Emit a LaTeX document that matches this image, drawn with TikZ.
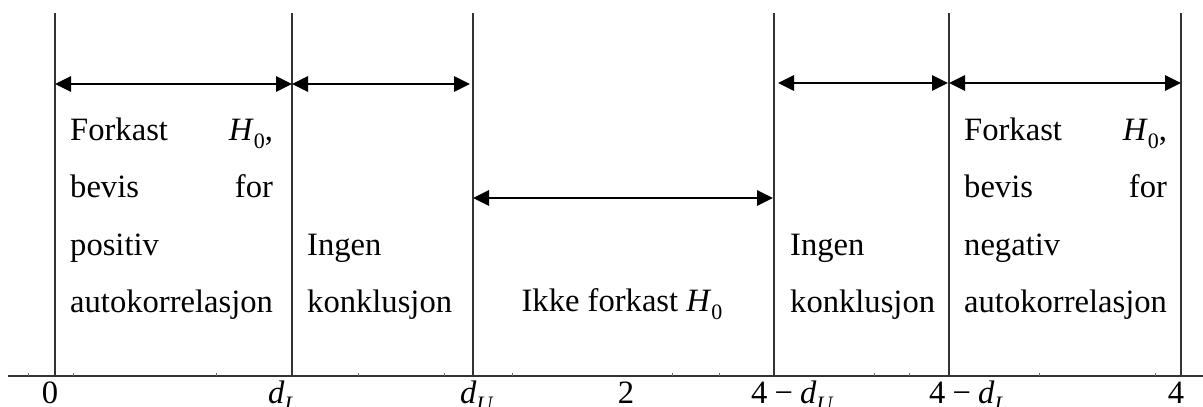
\documentclass[tikz,border=0pt]{standalone}
\usepackage{fontspec}
\setmainfont{Liberation Serif}
\usetikzlibrary{arrows.meta}
\newlength\colw
\newcommand{\ivar}[2]{\textit{#1}\raisebox{-0.25em}{\fontsize{22}{22}\selectfont #2}}
\newcommand{\jline}[2]{\settowidth{\colw}{autokorrelasjon}\makebox[\colw]{#1\hfill#2}}
\begin{document}
\begin{tikzpicture}[x=1pt,y=-1pt,
  vline/.style={line width=1.3pt, draw=black!80},
  axisline/.style={line width=1.4pt, draw=black!80},
  tickmark/.style={line width=0.8pt, draw=black!60},
  dimarrow/.style={line width=2.8pt, {Triangle[length=16pt,width=15pt]}-{Triangle[length=16pt,width=15pt]}},
  txt/.style={font=\fontsize{32.6}{40}\selectfont, inner sep=0pt, anchor=base west},
  lab/.style={font=\fontsize{32.6}{40}\selectfont, inner sep=0pt}]
\useasboundingbox (0,0) rectangle (1203,407);
\clip (0,0) rectangle (1203,407);
% axis
\coordinate (axL) at (8,376);
\coordinate (axR) at (1203,376);
\draw[axisline] (axL) -- (axR);
\foreach \x in {28.7,73.6,216.5,358,444,512,672,719.5,874,909,1039,1155.6}
  \draw[tickmark] (\x,376) -- ++(0,-3);
% vertical lines
\foreach \n/\x in {v0/55,v1/292,v2/473,v3/774,v4/949,v5/1181}{
  \coordinate (\n t) at (\x,13);
  \coordinate (\n b) at (\x,376);
  \draw[vline] (\n t) -- (\n b);
}
% arrows
\coordinate (a1l) at (55,84);  \coordinate (a1r) at (292,84);
\coordinate (a2l) at (292,84); \coordinate (a2r) at (470,84);
\coordinate (a3l) at (473,198);\coordinate (a3r) at (773,198);
\coordinate (a4l) at (778,83); \coordinate (a4r) at (948,83);
\coordinate (a5l) at (949,83); \coordinate (a5r) at (1181,83);
\draw[dimarrow] (a1l) -- (a1r);
\draw[dimarrow] (a2l) -- (a2r);
\draw[dimarrow] (a3l) -- (a3r);
\draw[dimarrow] (a4l) -- (a4r);
\draw[dimarrow] (a5l) -- (a5r);
% column 1
\node[txt] (c1a) at (70,140) {\jline{Forkast}{\ivar{H}{0},}};
\node[txt] (c1b) at (70,197) {\jline{bevis}{for}};
\node[txt] (c1c) at (70,255) {positiv};
\node[txt] (c1d) at (70,312) {autokorrelasjon};
% column 2
\node[txt] (c2a) at (307,255) {Ingen};
\node[txt] (c2b) at (307,312) {konklusjon};
% column 3
\node[lab, anchor=base] (c3) at (622,311) {Ikke forkast \ivar{H}{0}};
% column 4
\node[txt] (c4a) at (790,255) {Ingen};
\node[txt] (c4b) at (790,312) {konklusjon};
% column 5
\node[txt] (c5a) at (964,140) {\jline{Forkast}{\ivar{H}{0},}};
\node[txt] (c5b) at (964,197) {\jline{bevis}{for}};
\node[txt] (c5c) at (964,255) {negativ};
\node[txt] (c5d) at (964,312) {autokorrelasjon};
% axis labels
\node[lab, anchor=base] (l0) at (50,403) {0};
\node[lab, anchor=base west] (l1) at (268,403) {\ivar{d}{\textit{L}}};
\node[lab, anchor=base west] (l2) at (460,403) {\ivar{d}{\textit{U}}};
\node[lab, anchor=base] (l3) at (626,403) {2};
\node[lab, anchor=base west] (l4) at (751,403) {4\hspace{0.22em}−\hspace{0.22em}\ivar{d}{\textit{U}}};
\node[lab, anchor=base west] (l5) at (929,403) {4\hspace{0.22em}−\hspace{0.22em}\ivar{d}{\textit{L}}};
\node[lab, anchor=base] (l6) at (1176,403) {4};
\end{tikzpicture}
\end{document}
